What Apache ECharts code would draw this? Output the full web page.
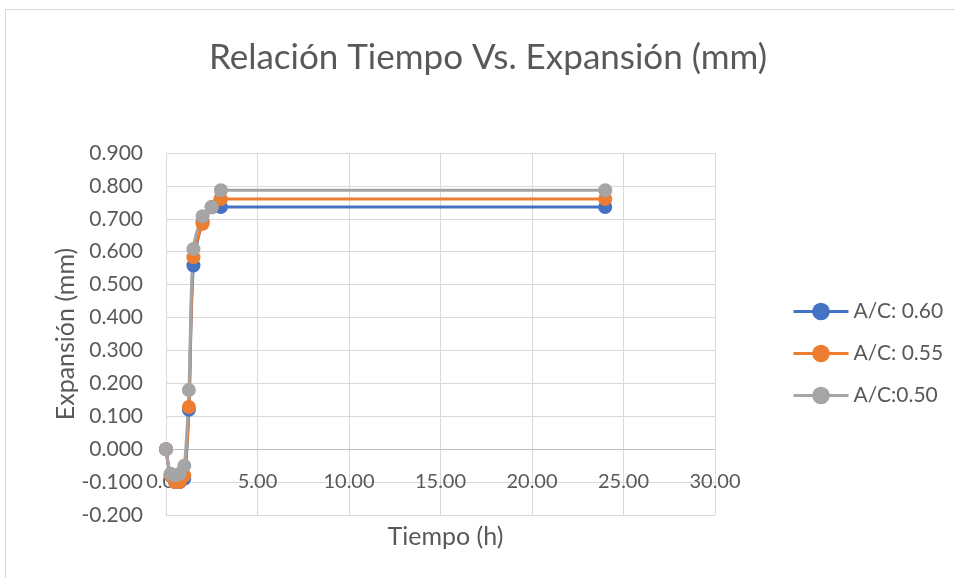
<!DOCTYPE html>
<html>
<head>
<meta charset="utf-8">
<script src="https://cdn.jsdelivr.net/npm/echarts@6/dist/echarts.min.js"></script>
<style>
html,body{margin:0;padding:0;background:#fff;}
#chart{width:955px;height:578px;}
</style>
</head>
<body>
<div id="chart"></div>
<script>
const titleText = "Relación Tiempo Vs. Expansión (mm)";
const xName = "Tiempo (h)";
const yName = "Expansión (mm)";
const times = [0, 0.25, 0.5, 0.75, 1.0, 1.25, 1.5, 2.0, 2.5, 3.0, 24];
const seriesNames = ["A/C: 0.60", "A/C: 0.55", "A/C:0.50"];
const ac060 = [0, -0.08, -0.10, -0.10, -0.09, 0.12, 0.558, 0.690, 0.735, 0.736, 0.736];
const ac055 = [0, -0.08, -0.10, -0.10, -0.08, 0.128, 0.583, 0.685, 0.736, 0.760, 0.760];
const ac050 = [0, -0.075, -0.08, -0.075, -0.05, 0.180, 0.608, 0.708, 0.736, 0.787, 0.787];
const colors = ["#4472C4", "#ED7D31", "#A5A5A5"];

const font = "Lato, 'Open Sans', sans-serif";
const chart = echarts.init(document.getElementById('chart'), null, {renderer: 'canvas'});

function mk(name, vals, color) {
  return {
    name: name,
    type: 'line',
    smooth: 0.3,
    data: times.map((t, i) => [t, vals[i]]),
    symbol: 'circle',
    symbolSize: 14,
    lineStyle: {color: color, width: 3},
    itemStyle: {color: color},
    emphasis: {disabled: true}
  };
}

chart.setOption({
  animation: false,
  backgroundColor: '#fff',
  color: colors,
  graphic: [{
    type: 'rect',
    shape: {x: 5.5, y: 9.5, width: 960, height: 580},
    style: {fill: 'none', stroke: '#D9D9D9', lineWidth: 1},
    silent: true
  }],
  title: {
    text: titleText,
    left: 483,
    textAlign: 'center',
    top: 35,
    textStyle: {fontFamily: font, fontSize: 35, fontWeight: 'normal', color: '#595959'}
  },
  legend: {
    orient: 'vertical',
    left: 787,
    top: 296,
    itemGap: 21,
    itemWidth: 55,
    itemHeight: 22,
    lineStyle: {width: 3},
    textStyle: {fontFamily: font, fontSize: 21, color: '#595959'},
    data: seriesNames
  },
  grid: {left: 166, right: 240, top: 153, bottom: 63, containLabel: false, outerBoundsMode: 'none'},
  xAxis: {
    type: 'value',
    min: 0, max: 30, interval: 5,
    name: xName,
    nameLocation: 'middle',
    nameGap: 9,
    nameMoveOverlap: false,
    nameTextStyle: {fontFamily: font, fontSize: 25, color: '#595959', verticalAlign: 'top', padding: [0, 0, 0, 10]},
    axisLine: {show: true, onZero: true, lineStyle: {color: '#BFBFBF', width: 1}},
    axisTick: {show: false},
    axisLabel: {fontFamily: font, fontSize: 20, color: '#595959', margin: -43,
      formatter: v => v.toFixed(2)},
    splitLine: {show: true, lineStyle: {color: '#D9D9D9', width: 1}}
  },
  yAxis: {
    type: 'value',
    min: -0.2, max: 0.9, interval: 0.1,
    name: yName,
    nameLocation: 'middle',
    nameGap: 88,
    nameMoveOverlap: false,
    nameTextStyle: {fontFamily: font, fontSize: 25, color: '#595959'},
    axisLine: {show: true, lineStyle: {color: '#D9D9D9', width: 1}},
    axisTick: {show: false},
    axisLabel: {fontFamily: font, fontSize: 21, color: '#595959', margin: 23,
      formatter: v => (Math.round(v * 1000) / 1000).toFixed(3)},
    splitLine: {show: true, lineStyle: {color: '#D9D9D9', width: 1}}
  },
  series: [
    mk(seriesNames[0], ac060, colors[0]),
    mk(seriesNames[1], ac055, colors[1]),
    mk(seriesNames[2], ac050, colors[2])
  ]
});
</script>
</body>
</html>
